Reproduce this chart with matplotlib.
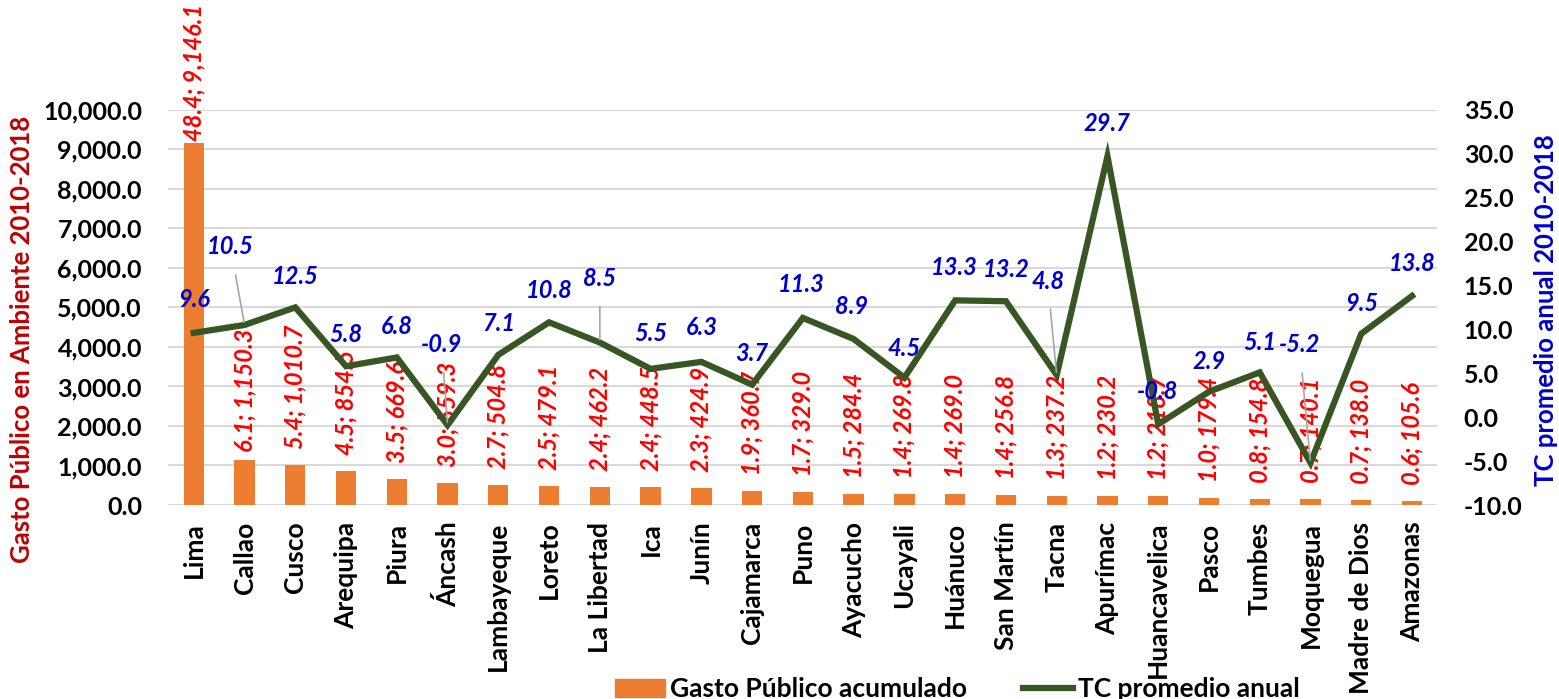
import matplotlib
matplotlib.use("Agg")
import matplotlib.pyplot as plt
from matplotlib.patches import Patch
from matplotlib.lines import Line2D
from matplotlib.ticker import FuncFormatter

plt.rcParams["font.family"] = ["Lato", "DejaVu Sans"]

regiones = ["Lima", "Callao", "Cusco", "Arequipa", "Piura", "Áncash", "Lambayeque",
            "Loreto", "La Libertad", "Ica", "Junín", "Cajamarca", "Puno", "Ayacucho",
            "Ucayali", "Huánuco", "San Martín", "Tacna", "Apurímac", "Huancavelica",
            "Pasco", "Tumbes", "Moquegua", "Madre de Dios", "Amazonas"]
participacion = [48.4, 6.1, 5.4, 4.5, 3.5, 3.0, 2.7, 2.5, 2.4, 2.4, 2.3, 1.9, 1.7,
                 1.5, 1.4, 1.4, 1.4, 1.3, 1.2, 1.2, 1.0, 0.8, 0.7, 0.7, 0.6]
gasto = [9146.1, 1150.3, 1010.7, 854.5, 669.6, 559.3, 504.8, 479.1, 462.2, 448.5,
         424.9, 360.7, 329.0, 284.4, 269.8, 269.0, 256.8, 237.2, 230.2, 218.7,
         179.4, 154.8, 140.1, 138.0, 105.6]
tc = [9.6, 10.5, 12.5, 5.8, 6.8, -0.9, 7.1, 10.8, 8.5, 5.5, 6.3, 3.7, 11.3, 8.9,
      4.5, 13.3, 13.2, 4.8, 29.7, -0.8, 2.9, 5.1, -5.2, 9.5, 13.8]

# label offsets (pixels) for the growth-rate labels; leader lines where far away
tc_off = [(0, 33), (-14, 78), (0, 31), (0, 32), (0, 31), (-6, 81), (0, 31), (0, 32),
          (0, 64), (0, 35), (0, 34), (0, 31), (-2, 33), (-2, 33), (0, 29), (-1, 33),
          (0, 32), (-9, 94), (0, 33), (-1, 33), (0, 30), (0, 30), (-11, 118), (0, 30),
          (0, 32)]
leader = {1, 5, 8, 17, 22}
bar_off = {0: 2, 1: 8}

ORANGE = "#ED7D31"
GREEN = "#375623"
BLUE = "#0000CC"
DARKRED = "#C00000"

fig = plt.figure(figsize=(15.59, 6.99), dpi=100)
ax = fig.add_axes([0.108, 0.2775, 0.814, 0.5655])
ax2 = ax.twinx()

x = list(range(len(regiones)))
ax.bar(x, gasto, width=0.4, color=ORANGE, zorder=2)
ax.set_ylim(0, 10000)
ax.set_yticks(range(0, 10001, 1000))
ax.yaxis.set_major_formatter(FuncFormatter(lambda v, p: f"{v:,.1f}"))
ax.set_xlim(-0.5, len(regiones) - 0.5)
ax.set_xticks(x)
ax.set_xticklabels(regiones, rotation=90, fontsize=19, fontweight="bold")
ax.grid(axis="y", color="#D9D9D9", linewidth=1.5, zorder=0)
ax.set_axisbelow(True)
for s in ax.spines.values():
    s.set_visible(False)
for s in ax2.spines.values():
    s.set_visible(False)
ax.tick_params(axis="y", length=0, labelsize=18, pad=19)
ax.tick_params(axis="x", length=0, pad=12)
for t in ax.get_yticklabels():
    t.set_fontweight("bold")
ax.set_ylabel("Gasto Público en Ambiente 2010-2018", color=DARKRED, fontsize=18.5,
              fontweight="bold")
ax.yaxis.set_label_coords(-0.106, 0.418)

for i, (p, g) in enumerate(zip(participacion, gasto)):
    ax.annotate(f"{p:.1f}; {g:,.1f}", (i, g), xytext=(0, bar_off.get(i, 16)),
                textcoords="offset pixels", rotation=90, ha="center", va="bottom",
                color="red", fontsize=17, fontweight="bold", style="italic", zorder=5)

ax2.plot(x, tc, color=GREEN, linewidth=4.5, solid_joinstyle="miter", zorder=3)
ax2.set_ylim(-10, 35)
ax2.set_yticks(range(-10, 36, 5))
ax2.yaxis.set_major_formatter(FuncFormatter(lambda v, p: f"{v:.1f}"))
ax2.tick_params(axis="y", length=0, labelsize=18, pad=19)
for t in ax2.get_yticklabels():
    t.set_fontweight("bold")
ax2.set_ylabel("TC promedio anual 2010-2018", color=BLUE, fontsize=18.5,
               fontweight="bold")
ax2.yaxis.set_label_coords(1.076, 0.494)

for i, v in enumerate(tc):
    dx, dy = tc_off[i]
    props = None
    if i in leader:
        props = dict(arrowstyle="-", color="#A6A6A6", lw=1.2, shrinkA=10, shrinkB=2)
    ax2.annotate(f"{v:.1f}", (i, v), xytext=(dx, dy), textcoords="offset pixels",
                 ha="center", va="center", color=BLUE, fontsize=17,
                 fontweight="bold", style="italic", arrowprops=props, zorder=6)

handles = [Patch(color=ORANGE), Line2D([0], [0], color=GREEN, linewidth=4.5)]
fig.legend(handles, ["Gasto Público acumulado", "TC promedio anual"], ncol=2,
           loc="center", bbox_to_anchor=(0.614, 0.014), frameon=False,
           prop=dict(size=19, weight="bold"), columnspacing=2.1,
           handlelength=1.9, handletextpad=0.2)

fig.savefig("out.png", dpi=100)
